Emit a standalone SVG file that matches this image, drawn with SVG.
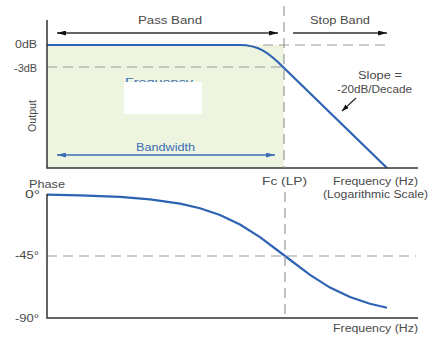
<svg xmlns="http://www.w3.org/2000/svg" width="435" height="339" viewBox="0 0 435 339">
<defs>
<style>
text{font-family:"Liberation Sans",Arial,sans-serif;font-size:10px;fill:#4a4a4a}
.blue{fill:#3a6db5}
.axis{stroke:#333;stroke-width:1.5;fill:none}
.dash{stroke:#999;stroke-width:1.2;stroke-dasharray:10 6;fill:none}
.curve{stroke:#2e63b3;stroke-width:2.2;fill:none}
.arr{stroke:#333;stroke-width:1.3;fill:none}
.barr{stroke:#3a6db5;stroke-width:1.3;fill:none}
</style>
<marker id="ah" viewBox="0 0 10 10" refX="10" refY="5" markerWidth="9" markerHeight="5" markerUnits="userSpaceOnUse" orient="auto-start-reverse" preserveAspectRatio="none"><path d="M0,0 L10,5 L0,10 Z" fill="#111"/></marker>
<marker id="bh" viewBox="0 0 10 10" refX="10" refY="5" markerWidth="9" markerHeight="5" markerUnits="userSpaceOnUse" orient="auto-start-reverse" preserveAspectRatio="none"><path d="M0,0 L10,5 L0,10 Z" fill="#3a6db5"/></marker>
<marker id="sh" viewBox="0 0 10 10" refX="10" refY="5" markerWidth="7" markerHeight="5" markerUnits="userSpaceOnUse" orient="auto" preserveAspectRatio="none"><path d="M0,0 L10,5 L0,10 Z" fill="#111"/></marker>
</defs>
<rect width="435" height="339" fill="#fff"/>

<g id="magnitude-plot">
<rect x="47" y="45" width="237" height="123" fill="#edf5e1"/>
<line class="dash" x1="47" y1="67" x2="283" y2="67"/>
<line class="dash" x1="263" y1="45" x2="388" y2="45"/>
<path class="curve" d="M47,45 L240,45 C258,45 268,52 283,67 L387,168"/>
<path class="axis" d="M47,20 L47,168 L418,168"/>
<text x="37" y="48" text-anchor="end" textLength="22" lengthAdjust="spacingAndGlyphs">0dB</text>
<text x="37" y="72" text-anchor="end" textLength="23" lengthAdjust="spacingAndGlyphs">-3dB</text>
<text transform="translate(36,116) rotate(-90)" text-anchor="middle" textLength="32" lengthAdjust="spacingAndGlyphs">Output</text>
</g>

<g id="frequency-label">
<text class="blue" x="125" y="86" textLength="68" lengthAdjust="spacingAndGlyphs">Frequency</text>
<rect x="124" y="82" width="78" height="32" fill="#fff"/>
</g>

<g id="pass-band">
<text x="170" y="24" text-anchor="middle" textLength="64" lengthAdjust="spacingAndGlyphs">Pass Band</text>
</g>
<g id="stop-band">
<text x="340" y="24" text-anchor="middle" textLength="60" lengthAdjust="spacingAndGlyphs">Stop Band</text>
</g>
<g id="bandwidth">
<text class="blue" x="165.5" y="151" text-anchor="middle" textLength="59" lengthAdjust="spacingAndGlyphs">Bandwidth</text>
</g>
<g id="slope">
<text x="380" y="79" text-anchor="middle" textLength="44" lengthAdjust="spacingAndGlyphs">Slope =</text>
<text x="374.5" y="93" text-anchor="middle" textLength="75" lengthAdjust="spacingAndGlyphs">-20dB/Decade</text>
</g>

<g id="phase-plot">
<line class="dash" x1="47" y1="256" x2="416" y2="256"/>
<path class="curve" d="M47,194.7 L80,195.3 L120,196.9 L150,199.3 L180,203.6 L200,208.2 L220,215 L240,224.5 L260,237.1 L285,256 L310,274.9 L330,287.6 L350,297.1 L370,303.8 L387,307.8"/>
<path class="axis" d="M47,194 L47,318 L418,318"/>
<text x="29" y="188" textLength="36" lengthAdjust="spacingAndGlyphs">Phase</text>
<text x="40" y="198" text-anchor="end" textLength="15" lengthAdjust="spacingAndGlyphs">0°</text>
<text x="39" y="259" text-anchor="end" textLength="24" lengthAdjust="spacingAndGlyphs">-45°</text>
<text x="39" y="322" text-anchor="end" textLength="24" lengthAdjust="spacingAndGlyphs">-90°</text>
</g>

<g id="fc-label">
<text x="284.5" y="185" text-anchor="middle" textLength="45" lengthAdjust="spacingAndGlyphs">Fc (LP)</text>
</g>
<g id="frequency-axis-top">
<text x="375.5" y="185" text-anchor="middle" textLength="85" lengthAdjust="spacingAndGlyphs">Frequency (Hz)</text>
<text x="375.5" y="198" text-anchor="middle" textLength="105" lengthAdjust="spacingAndGlyphs">(Logarithmic Scale)</text>
</g>
<g id="frequency-axis-bottom">
<text x="375.5" y="332" text-anchor="middle" textLength="85" lengthAdjust="spacingAndGlyphs">Frequency (Hz)</text>
</g>

<g id="connectors">
<line class="dash" x1="284" y1="6" x2="284" y2="168"/>
<line class="dash" x1="285" y1="192" x2="285" y2="318"/>
<line class="arr" x1="57" y1="33" x2="278" y2="33" marker-start="url(#ah)" marker-end="url(#ah)"/>
<line class="arr" x1="293" y1="33" x2="387" y2="33" marker-end="url(#ah)"/>
<line class="barr" x1="57" y1="155" x2="275" y2="155" marker-start="url(#bh)" marker-end="url(#bh)"/>
<line class="arr" x1="356" y1="98" x2="342" y2="111" marker-end="url(#sh)"/>
</g>
</svg>
